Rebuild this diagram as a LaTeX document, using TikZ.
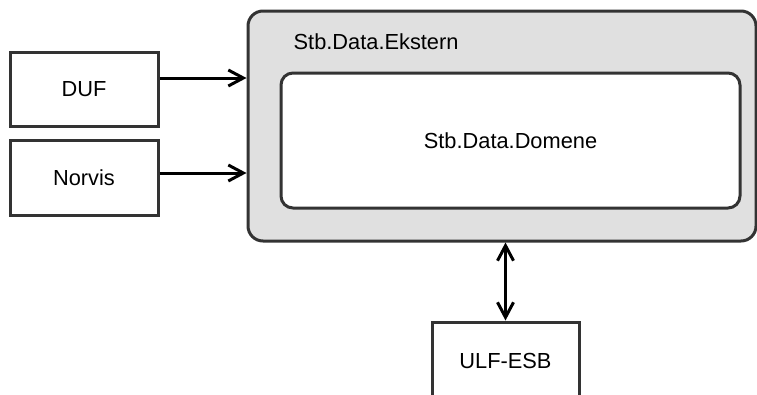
\documentclass[tikz,border=0pt]{standalone}
\usepackage{fontspec}
\setmainfont{Liberation Sans}
\usetikzlibrary{arrows.meta}
\definecolor{boxline}{HTML}{333333}
\definecolor{boxgray}{HTML}{E0E0E0}
\begin{document}
\begin{tikzpicture}[x=1pt, y=-1pt,
    lbl/.style={inner sep=0pt, font=\fontsize{21.8}{26}\selectfont},
    sysbox/.style={lbl, draw=boxline, line width=3pt, fill=white},
    flow/.style={line width=3pt, -{Straight Barb[length=15pt,width=16pt]}},
    dflow/.style={line width=3pt, {Straight Barb[length=15pt,width=16pt]}-{Straight Barb[length=15pt,width=16pt]}}]
    \useasboundingbox (0,0) rectangle (757,394);
    \clip (0,0) rectangle (757,394);

    % external sources
    \node[sysbox, minimum width=148pt, minimum height=74pt] (duf) at (84,89.5) {DUF};
    \node[sysbox, minimum width=148pt, minimum height=75pt] (norvis) at (84,177.5) {Norvis};

    % data layers
    \node[sysbox, fill=boxgray, rounded corners=15pt, minimum width=508pt, minimum height=230pt] (ekstern) at (502,126) {};
    \node[lbl, anchor=west] (eksternlbl) at ([xshift=47pt, yshift=-32pt]ekstern.north west) {Stb.Data.Ekstern};
    \node[sysbox, rounded corners=12pt, minimum width=459pt, minimum height=135pt] (domene) at (510.5,140.5) {Stb.Data.Domene};

    % bus
    \node[sysbox, minimum width=147pt, minimum height=78pt] (esb) at (505.5,361) {ULF-ESB};

    % connectors
    \coordinate (dufout) at ([yshift=11.5pt]duf.east);
    \coordinate (norvisout) at ([yshift=4.5pt]norvis.east);
    \draw[flow] (dufout) -- (dufout -| ekstern.west);
    \draw[flow] (norvisout) -- (norvisout -| ekstern.west);
    \draw[dflow] (esb.north) -- (esb.north |- ekstern.south);
\end{tikzpicture}
\end{document}
